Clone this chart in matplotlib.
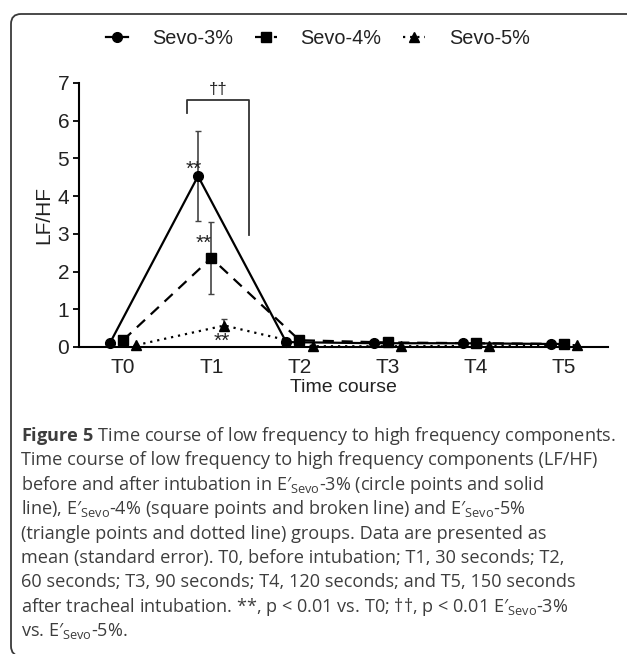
import matplotlib
matplotlib.use("Agg")
import matplotlib.pyplot as plt
from matplotlib.patches import FancyBboxPatch
from matplotlib.transforms import IdentityTransform

# ---------------- data ----------------
timepoints = ["T0", "T1", "T2", "T3", "T4", "T5"]
sevo3 = [0.10, 4.53, 0.13, 0.10, 0.10, 0.08]
sevo4 = [0.18, 2.36, 0.18, 0.12, 0.10, 0.08]
sevo5 = [0.05, 0.57, 0.02, 0.02, 0.03, 0.05]
sevo3_err_lo = [0, 1.19, 0, 0, 0, 0]
sevo3_err_hi = [0, 1.19, 0, 0, 0, 0]
sevo4_err_lo = [0, 0.95, 0, 0, 0, 0]
sevo4_err_hi = [0, 0.95, 0, 0, 0, 0]
sevo5_err_lo = [0, 0.12, 0, 0, 0, 0]
sevo5_err_hi = [0, 0.17, 0, 0, 0, 0]
series_names = ["Sevo-3%", "Sevo-4%", "Sevo-5%"]
yticks = [0, 1, 2, 3, 4, 5, 6, 7]

caption_lines = [
    r"$\mathbf{Figure\ 5}$ Time course of low frequency to high frequency components.",
    "Time course of low frequency to high frequency components (LF/HF)",
    r"before and after intubation in E′$_{\mathregular{Sevo}}$-3% (circle points and solid",
    r"line), E′$_{\mathregular{Sevo}}$-4% (square points and broken line) and E′$_{\mathregular{Sevo}}$-5%",
    "(triangle points and dotted line) groups. Data are presented as",
    "mean (standard error). T0, before intubation; T1, 30 seconds; T2,",
    "60 seconds; T3, 90 seconds; T4, 120 seconds; and T5, 150 seconds",
    r"after tracheal intubation. **, p < 0.01 vs. T0; ††, p < 0.01 E′$_{\mathregular{Sevo}}$-3%",
    r"vs. E′$_{\mathregular{Sevo}}$-5%.",
]

# ---------------- style ----------------
plt.rcParams["font.family"] = ["Liberation Sans", "DejaVu Sans"]
plt.rcParams["mathtext.fontset"] = "custom"
plt.rcParams["mathtext.rm"] = "Open Sans"
plt.rcParams["mathtext.bf"] = "Open Sans:bold"
plt.rcParams["mathtext.it"] = "Open Sans:italic"

W, H, DPI = 627, 654, 100
fig = plt.figure(figsize=(W / DPI, H / DPI), dpi=DPI)
fig.patch.set_facecolor("white")

# outer rounded frame (pixel coordinates, origin bottom-left)
frame = FancyBboxPatch((11, -2), 700, 642,
                       boxstyle="round,pad=0,rounding_size=10",
                       transform=IdentityTransform(), fill=False,
                       edgecolor="#3a3a3a", linewidth=1.3)
fig.patches.append(frame)

ax_l, ax_r, ax_b, ax_t = 79, 608, 347, 83
ax = fig.add_axes([ax_l / W, 1 - ax_b / H, (ax_r - ax_l) / W, (ax_b - ax_t) / H])

x = list(range(len(timepoints)))
off = 0.15
x3 = [v - off for v in x]
x4 = [v for v in x]
x5 = [v + off for v in x]

txt_col = "#222222"
LW = 1.6
styles = [
    dict(linestyle="-", marker="o", markersize=7),
    dict(linestyle=(0, (5, 3.5)), marker="s", markersize=6.5),
    dict(linestyle=(0, (1, 2.2)), marker="^", markersize=6.5),
]
series = [(x3, sevo3, sevo3_err_lo, sevo3_err_hi),
          (x4, sevo4, sevo4_err_lo, sevo4_err_hi),
          (x5, sevo5, sevo5_err_lo, sevo5_err_hi)]
handles = []
for (xs, ys, lo, hi), st, name in zip(series, styles, series_names):
    ax.errorbar(xs, ys, yerr=[lo, hi], fmt="none", ecolor="#444444",
                elinewidth=1.2, capsize=2, capthick=1.0, zorder=2, clip_on=False)
    h, = ax.plot(xs, ys, color="black", linewidth=LW, clip_on=False, zorder=3,
                 label=name, **st)
    handles.append(h)

ax.set_xlim(-0.5, 5.5)
ax.set_ylim(0, 7)
ax.set_yticks(yticks)
ax.set_xticks(x)
ax.set_xticklabels(timepoints)
ax.tick_params(axis="x", length=0, pad=8, labelsize=15, colors=txt_col)
ax.tick_params(axis="y", length=4, width=1.3, pad=3, labelsize=15, colors=txt_col)
ax.tick_params(axis="y", color="black")
for s in ["top", "right"]:
    ax.spines[s].set_visible(False)
for s in ["left", "bottom"]:
    ax.spines[s].set_linewidth(1.5)
    ax.spines[s].set_color("black")
ax.set_ylabel("LF/HF", fontsize=15, color=txt_col, labelpad=3)
ax.set_xlabel("Time course", fontsize=14, color=txt_col, labelpad=1)
ax.patch.set_alpha(0)

# significance annotations
ax.text(0.80, 4.72, "**", ha="center", va="center", fontsize=15, color=txt_col)
ax.text(0.91, 2.76, "**", ha="center", va="center", fontsize=15, color=txt_col)
ax.text(1.12, 0.16, "**", ha="center", va="center", fontsize=15, color=txt_col)
ax.plot([0.73, 0.73, 1.43, 1.43], [6.21, 6.55, 6.55, 2.97], color="#333333",
        linewidth=1.3, clip_on=False)
ax.text(1.08, 6.84, "††", ha="center", va="center", fontsize=12, color=txt_col)

# legend
fig.legend(handles, series_names, loc="center", bbox_to_anchor=(318 / W, 1 - 38 / H),
           ncol=3, frameon=False, fontsize=14.3, handlelength=1.1,
           handletextpad=1.2, columnspacing=1.1, labelcolor=txt_col)

# caption
cap_col = "#3d3d3d"
y0, dy = 436, 24.4
for i, line in enumerate(caption_lines):
    fig.text(21 / W, 1 - (y0 + i * dy) / H, line, ha="left", va="center",
             fontsize=13.1, color=cap_col, family=["Open Sans", "DejaVu Sans"])

fig.savefig("out.png", dpi=DPI, facecolor="white")
